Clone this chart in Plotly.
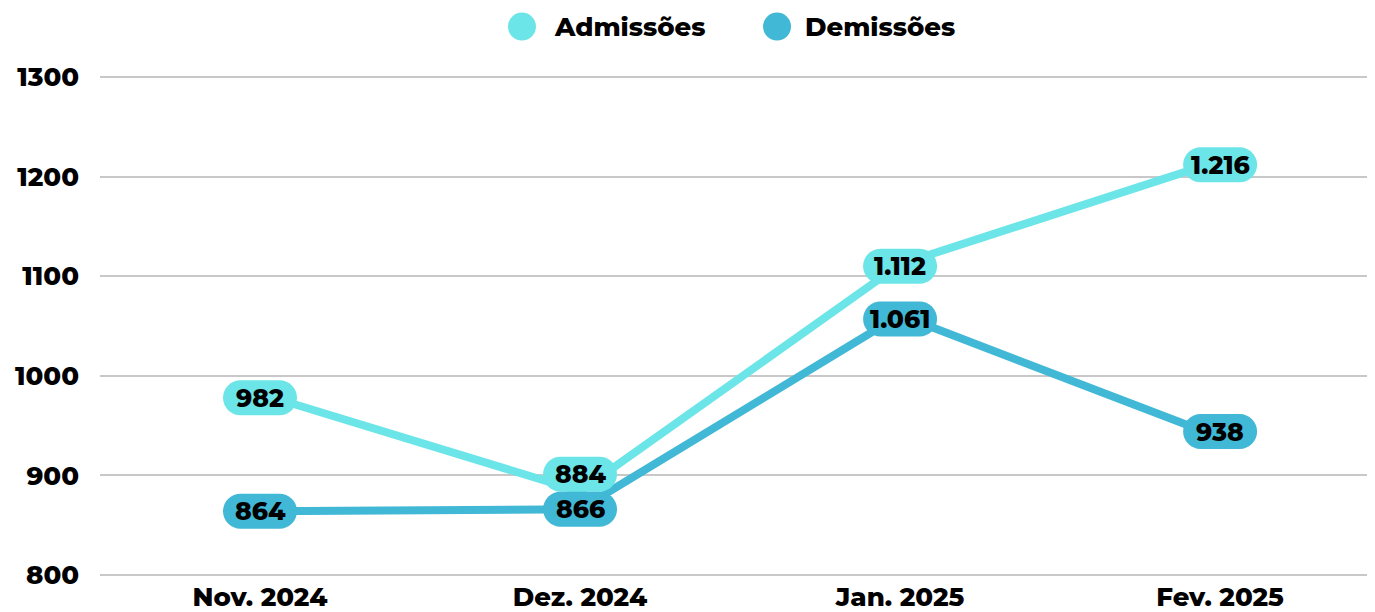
import plotly.graph_objects as go

# --- data ---
months = ["Nov. 2024", "Dez. 2024", "Jan. 2025", "Fev. 2025"]
admissoes = [982, 884, 1112, 1216]
demissoes = [864, 866, 1061, 938]
# small pixel nudges for labels (884 would collide with 866)
adm_label_shift = [-4, 17, -2, -4]
dem_label_shift = [0, 0, -4, 6]
y_ticks = [800, 900, 1000, 1100, 1200, 1300]

COL_ADM = "#6CE5E8"
COL_DEM = "#41B8D5"
FONT = "Montserrat, Inter, sans-serif"


def fmt(v):
    return f"{v:,}".replace(",", ".")


def pill(dy=0, w=74, h=35):
    # rounded-end box built from cubic curves, in pixels around the anchor
    hw, r = w / 2, h / 2
    k = 0.5523 * r
    ax = hw - r
    t, b = dy + r, dy - r
    return (f"M {-ax},{b} L {ax},{b} "
            f"C {ax + k},{b} {hw},{dy - k} {hw},{dy} "
            f"C {hw},{dy + k} {ax + k},{t} {ax},{t} "
            f"L {-ax},{t} "
            f"C {-ax - k},{t} {-hw},{dy + k} {-hw},{dy} "
            f"C {-hw},{dy - k} {-ax - k},{b} {-ax},{b} Z")


fig = go.Figure()
fig.add_trace(go.Scatter(x=months, y=admissoes, mode="lines", name="Admissões",
                         line=dict(color=COL_ADM, width=8), showlegend=False))
fig.add_trace(go.Scatter(x=months, y=demissoes, mode="lines", name="Demissões",
                         line=dict(color=COL_DEM, width=8), showlegend=False))

# value labels as pills
for series, shifts, col in [(admissoes, adm_label_shift, COL_ADM),
                            (demissoes, dem_label_shift, COL_DEM)]:
    for m, v, s in zip(months, series, shifts):
        fig.add_shape(type="path", xref="x", yref="y",
                      xsizemode="pixel", ysizemode="pixel",
                      xanchor=m, yanchor=v, path=pill(s),
                      fillcolor=col, line=dict(width=0), layer="above")
        fig.add_annotation(x=m, y=v, yshift=s, text=fmt(v), showarrow=False,
                           font=dict(family=FONT, size=25, color="black", weight=800))

# manual legend with big round markers
LEG_Y = 1.0964
legend_items = [("Admissões", COL_ADM, 0.3289, 0.3523),
                ("Demissões", COL_DEM, 0.5277, 0.5479)]
for name, col, cx, tx in legend_items:
    fig.add_shape(type="circle", xref="paper", yref="paper",
                  xsizemode="pixel", ysizemode="pixel",
                  xanchor=cx, yanchor=LEG_Y, x0=-14, x1=14, y0=-14, y1=14,
                  fillcolor=col, line=dict(width=0))
    fig.add_annotation(x=tx, y=LEG_Y, xref="paper", yref="paper",
                       xanchor="left", yanchor="middle", text=name, showarrow=False,
                       font=dict(family=FONT, size=26, color="black", weight=800))

fig.update_layout(
    width=1375, height=612,
    margin=dict(l=92, r=0, t=67, b=43),
    plot_bgcolor="white", paper_bgcolor="white",
    font=dict(family=FONT, size=26, color="black", weight=800),
    showlegend=False,
)
fig.update_xaxes(type="category", range=[-0.5, 3.509], showgrid=False,
                 showline=False, ticks="", zeroline=False, ticklabelstandoff=2)
fig.update_yaxes(range=[798, 1302], tickvals=y_ticks, showgrid=True,
                 gridcolor="#c8c8c8", gridwidth=2, zeroline=False, showline=False,
                 ticks="", ticklabelstandoff=20)

fig.write_html("out.html")
